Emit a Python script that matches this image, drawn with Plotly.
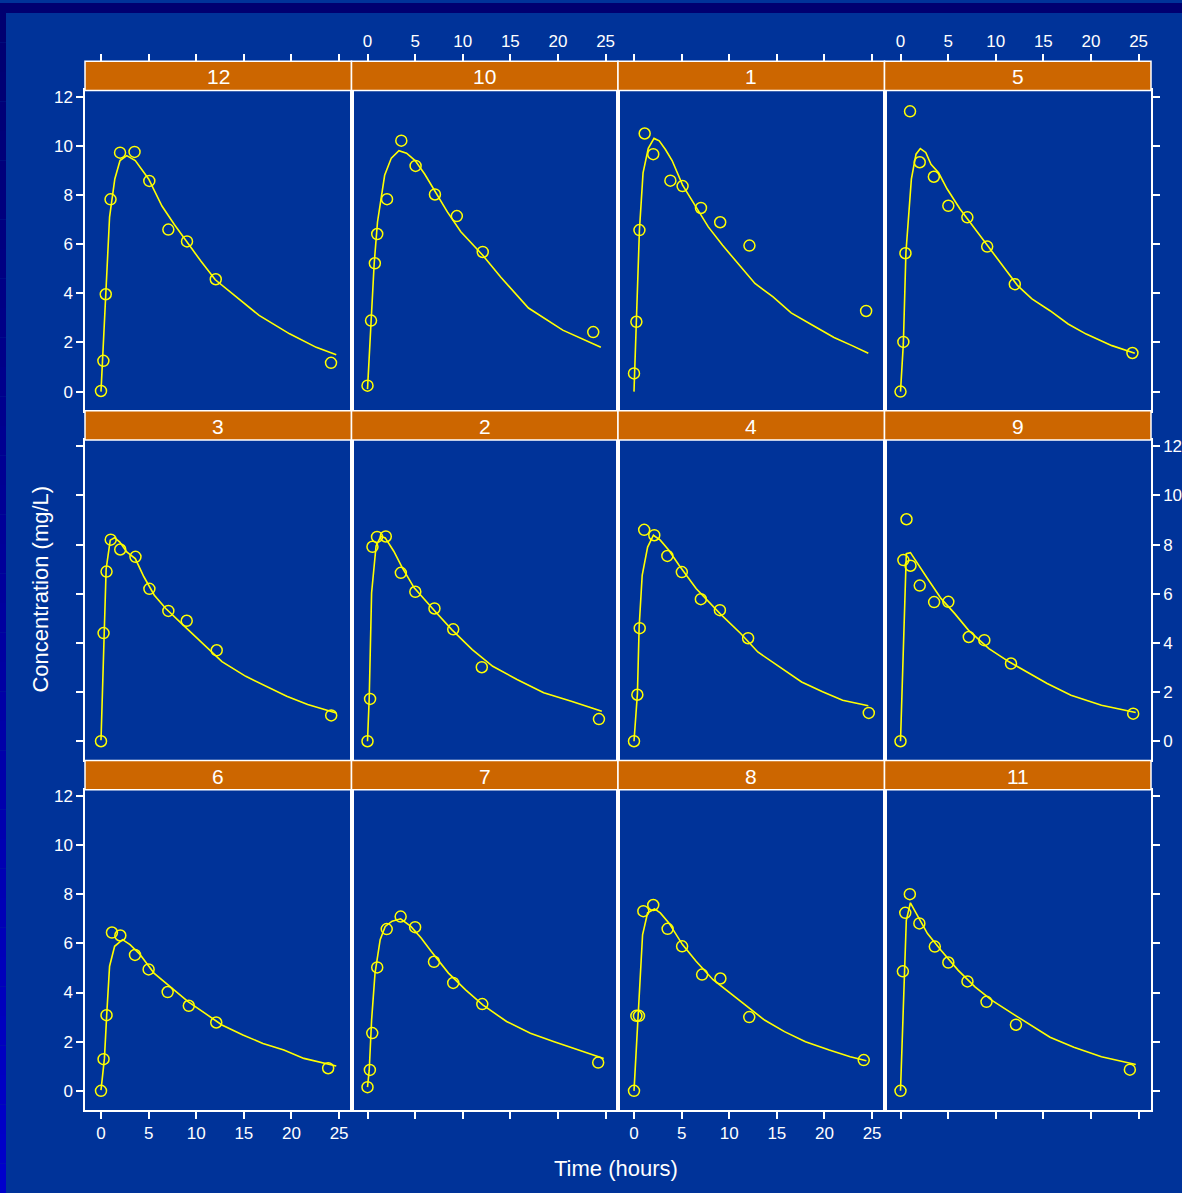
import plotly.graph_objects as go

# ---------------- data ----------------
panel_rows = [[12, 10, 1, 5], [3, 2, 4, 9], [6, 7, 8, 11]]
x_ticks = [0, 5, 10, 15, 20, 25]
y_ticks = [0, 2, 4, 6, 8, 10, 12]

obs_time_1 = [0, 0.25, 0.57, 1.12, 2.02, 3.82, 5.10, 7.03, 9.05, 12.12, 24.37]
obs_conc_1 = [0.74, 2.84, 6.57, 10.50, 9.66, 8.58, 8.36, 7.47, 6.89, 5.94, 3.28]
obs_time_2 = [0, 0.27, 0.52, 1.00, 1.92, 3.50, 5.02, 7.03, 9.00, 12.00, 24.30]
obs_conc_2 = [0, 1.72, 7.91, 8.31, 8.33, 6.85, 6.08, 5.40, 4.55, 3.01, 0.90]
obs_time_3 = [0, 0.27, 0.58, 1.02, 2.02, 3.62, 5.08, 7.07, 9.00, 12.15, 24.17]
obs_conc_3 = [0, 4.40, 6.90, 8.20, 7.80, 7.50, 6.20, 5.30, 4.90, 3.70, 1.05]
obs_time_4 = [0, 0.35, 0.60, 1.07, 2.13, 3.50, 5.02, 7.02, 9.02, 11.98, 24.65]
obs_conc_4 = [0, 1.89, 4.60, 8.60, 8.38, 7.54, 6.88, 5.78, 5.33, 4.19, 1.15]
obs_time_5 = [0, 0.30, 0.52, 1.00, 2.02, 3.50, 5.02, 7.02, 9.10, 12.00, 24.35]
obs_conc_5 = [0, 2.02, 5.63, 11.40, 9.33, 8.74, 7.56, 7.09, 5.90, 4.37, 1.57]
obs_time_6 = [0, 0.27, 0.58, 1.15, 2.03, 3.57, 5.00, 7.00, 9.22, 12.10, 23.85]
obs_conc_6 = [0, 1.29, 3.08, 6.44, 6.32, 5.53, 4.94, 4.02, 3.46, 2.78, 0.92]
obs_time_7 = [0, 0.25, 0.50, 1.02, 2.02, 3.48, 5.00, 6.98, 9.00, 12.05, 24.22]
obs_conc_7 = [0.15, 0.85, 2.35, 5.02, 6.58, 7.09, 6.66, 5.25, 4.39, 3.53, 1.15]
obs_time_8 = [0, 0.25, 0.52, 0.98, 2.02, 3.53, 5.05, 7.15, 9.07, 12.10, 24.12]
obs_conc_8 = [0, 3.05, 3.05, 7.31, 7.56, 6.59, 5.88, 4.73, 4.57, 3.00, 1.25]
obs_time_9 = [0, 0.30, 0.63, 1.05, 2.02, 3.53, 5.02, 7.17, 8.80, 11.60, 24.43]
obs_conc_9 = [0, 7.37, 9.03, 7.14, 6.33, 5.66, 5.67, 4.24, 4.11, 3.16, 1.12]
obs_time_10 = [0, 0.37, 0.77, 1.02, 2.05, 3.55, 5.05, 7.08, 9.38, 12.10, 23.70]
obs_conc_10 = [0.24, 2.89, 5.22, 6.41, 7.83, 10.21, 9.18, 8.02, 7.14, 5.68, 2.42]
obs_time_11 = [0, 0.25, 0.50, 0.98, 1.98, 3.60, 5.02, 7.03, 9.03, 12.12, 24.08]
obs_conc_11 = [0, 4.86, 7.24, 8.00, 6.81, 5.87, 5.22, 4.45, 3.62, 2.69, 0.86]
obs_time_12 = [0, 0.25, 0.50, 1.00, 2.00, 3.52, 5.07, 7.07, 9.03, 12.05, 24.15]
obs_conc_12 = [0.025, 1.25, 3.96, 7.82, 9.72, 9.75, 8.57, 6.59, 6.11, 4.57, 1.17]

# fitted curves
fit_time_1 = [0, 0.25, 0.57, 0.95, 1.5, 2.1, 2.65, 3.3, 4.0, 5.1, 6.45, 7.8, 9.3, 11.2, 12.7, 14.6, 16.5, 18.75, 21.0, 22.9, 24.6]
fit_conc_1 = [0, 2.84, 6.57, 8.9, 9.9, 10.3, 10.2, 9.85, 9.4, 8.4, 7.55, 6.7, 5.95, 5.1, 4.4, 3.85, 3.2, 2.7, 2.2, 1.87, 1.56]
fit_time_2 = [0, 0.18, 0.43, 0.9, 1.4, 1.86, 2.76, 3.66, 4.9, 6.0, 7.06, 8.85, 11.0, 13.15, 15.7, 18.5, 21.4, 24.6]
fit_conc_2 = [0, 1.76, 6.04, 7.94, 8.34, 8.27, 7.73, 7.05, 6.24, 5.75, 5.3, 4.54, 3.73, 3.05, 2.51, 1.97, 1.63, 1.22]
fit_time_3 = [0, 0.54, 0.97, 1.43, 1.97, 2.7, 3.6, 4.5, 5.6, 6.8, 8.8, 10.6, 12.7, 15.2, 17.4, 19.5, 21.7, 24.7]
fit_conc_3 = [0.04, 7.0, 8.18, 8.28, 8.1, 7.7, 7.43, 6.69, 5.94, 5.4, 4.66, 3.99, 3.24, 2.64, 2.24, 1.83, 1.49, 1.15]
fit_time_4 = [0, 0.36, 0.54, 0.86, 1.43, 2.04, 2.76, 3.66, 4.73, 6.52, 9.03, 11.2, 13.0, 15.5, 17.6, 19.8, 21.9, 24.6]
fit_conc_4 = [0, 1.94, 4.65, 6.75, 7.9, 8.38, 8.18, 7.77, 7.16, 6.21, 5.19, 4.38, 3.63, 2.96, 2.41, 2.01, 1.67, 1.44]
fit_time_5 = [0, 0.3, 0.57, 1.14, 1.63, 2.08, 2.65, 3.2, 4.0, 4.9, 6.25, 8.1, 10.4, 12.3, 13.8, 15.7, 17.6, 19.5, 22.2, 24.6]
fit_conc_5 = [0, 1.96, 5.66, 8.64, 9.66, 9.89, 9.73, 9.25, 8.9, 8.24, 7.43, 6.48, 5.26, 4.31, 3.77, 3.29, 2.75, 2.34, 1.87, 1.56]
fit_time_6 = [0, 0.36, 0.61, 0.9, 1.43, 2.26, 3.05, 4.12, 5.56, 7.0, 9.14, 10.9, 12.7, 14.9, 17.0, 19.2, 21.3, 24.7]
fit_conc_6 = [0.03, 1.32, 3.16, 5.07, 5.88, 6.15, 5.95, 5.54, 4.79, 4.31, 3.63, 3.16, 2.68, 2.27, 1.93, 1.66, 1.32, 1.01]
fit_time_7 = [0, 0.18, 0.43, 0.79, 1.33, 1.86, 2.58, 3.48, 4.55, 5.63, 6.7, 8.5, 10.3, 12.1, 14.6, 17.1, 19.6, 22.1, 24.8]
fit_conc_7 = [0.15, 0.84, 2.88, 4.79, 6.15, 6.69, 6.9, 7.0, 6.69, 6.22, 5.67, 4.79, 4.11, 3.5, 2.82, 2.34, 2.0, 1.66, 1.32]
fit_time_8 = [0, 0.43, 0.9, 1.43, 2.15, 2.76, 3.66, 5.09, 6.52, 8.3, 10.1, 11.9, 13.7, 15.8, 18.0, 20.5, 22.7, 24.4]
fit_conc_8 = [0, 3.02, 6.35, 7.24, 7.4, 7.24, 6.83, 5.95, 5.27, 4.52, 3.97, 3.43, 2.88, 2.41, 2.0, 1.66, 1.39, 1.22]
fit_time_9 = [0, 0.61, 1.04, 1.76, 2.83, 4.27, 5.7, 7.13, 9.28, 11.4, 13.2, 15.4, 17.9, 21.1, 24.7]
fit_conc_9 = [0, 7.63, 7.67, 7.23, 6.62, 5.8, 5.19, 4.52, 3.77, 3.23, 2.82, 2.35, 1.87, 1.46, 1.17]
fit_time_10 = [0, 0.36, 0.7, 1.05, 1.8, 2.5, 3.3, 4.1, 5.0, 6.0, 7.0, 8.4, 9.8, 12.1, 14.0, 16.9, 20.5, 24.5]
fit_conc_10 = [0.1, 2.9, 5.2, 6.9, 8.8, 9.5, 9.8, 9.7, 9.4, 8.85, 8.2, 7.3, 6.5, 5.55, 4.65, 3.4, 2.5, 1.8]
fit_time_11 = [0, 0.39, 0.61, 1.04, 1.76, 2.83, 4.27, 6.06, 7.85, 9.64, 11.8, 13.6, 15.7, 18.2, 21.1, 24.7]
fit_conc_11 = [0, 4.9, 6.94, 7.65, 7.15, 6.4, 5.71, 4.9, 4.22, 3.67, 3.13, 2.69, 2.18, 1.77, 1.39, 1.07]
fit_time_12 = [0, 0.5, 0.9, 1.45, 2.0, 2.7, 3.6, 5.0, 6.4, 7.7, 9.1, 10.5, 12.0, 14.1, 16.6, 19.8, 22.6, 24.7]
fit_conc_12 = [0, 3.9, 7.1, 8.65, 9.4, 9.6, 9.4, 8.65, 7.55, 6.8, 6.05, 5.3, 4.55, 3.9, 3.1, 2.35, 1.8, 1.5]

g = globals()
subjects = {s: (g[f"obs_time_{s}"], g[f"obs_conc_{s}"], g[f"fit_time_{s}"], g[f"fit_conc_{s}"])
            for s in range(1, 13)}

# ---------------- layout constants (pixels) ----------------
W, H = 1182, 1193
col_edges = [85, 351.5, 618, 884.5, 1151]
row_top = [58.3, 408.8, 759.3]   # strip tops
strip_h = 29.4
row_pitch = 350.5
XR = [-1.68, 26.3]
YR = [-0.78, 12.25]

BG = "#003399"
YEL = "#FFFF00"
FONT = "Liberation Sans, Arial, Helvetica, sans-serif"


def px(x):
    return x / W


def py(y):
    return 1 - y / H


fig = go.Figure()
layout = dict(
    width=W, height=H, autosize=False,
    margin=dict(l=0, r=0, t=0, b=0),
    paper_bgcolor=BG, plot_bgcolor=BG,
    showlegend=False,
    font=dict(family=FONT, color="white"),
)
shapes = []
annotations = []

axis_common = dict(showgrid=False, zeroline=False, showline=True, mirror=True,
                   linecolor="white", linewidth=1.5, ticklen=7, tickwidth=1.5,
                   tickcolor="white", tickfont=dict(family=FONT, size=17, color="white"),
                   fixedrange=True)

for r, row in enumerate(panel_rows):
    s_top = row_top[r]
    s_bot = s_top + strip_h
    p_bot = s_top + row_pitch
    for c, subj in enumerate(row):
        k = r * 4 + c + 1
        xs = "" if k == 1 else str(k)
        x0, x1 = col_edges[c], col_edges[c + 1]
        layout[f"xaxis{xs}"] = dict(
            axis_common, domain=[px(x0), px(x1)], range=XR, anchor=f"y{xs}",
            tickvals=x_ticks, ticks="outside" if r == 2 else "",
            showticklabels=(r == 2 and c in (0, 2)), side="bottom")
        layout[f"yaxis{xs}"] = dict(
            axis_common, domain=[py(p_bot), py(s_bot)], range=YR, anchor=f"x{xs}",
            tickvals=y_ticks, ticks="outside" if c in (0, 3) else "",
            showticklabels=((c == 0 and r in (0, 2)) or (c == 3 and r == 1)),
            side="right" if c == 3 else "left")
        ot, oc, ft, fc = subjects[subj]
        fig.add_trace(go.Scatter(x=ft, y=fc, mode="lines", xaxis=f"x{xs}", yaxis=f"y{xs}",
                                 line=dict(color=YEL, width=1.6), hoverinfo="skip"))
        fig.add_trace(go.Scatter(x=ot, y=oc, mode="markers", xaxis=f"x{xs}", yaxis=f"y{xs}",
                                 marker=dict(symbol="circle-open", size=11, color=YEL,
                                             line=dict(color=YEL, width=1.5))))
        # strip
        shapes.append(dict(type="rect", xref="paper", yref="paper",
                           x0=px(x0), x1=px(x1), y0=py(s_bot), y1=py(s_top),
                           fillcolor="#CC6600", line=dict(color="white", width=1.5)))
        annotations.append(dict(text=str(subj), xref="paper", yref="paper",
                                x=px((x0 + x1) / 2), y=py((s_top + s_bot) / 2 + 1),
                                showarrow=False, font=dict(family=FONT, size=21, color="white"),
                                xanchor="center", yanchor="middle"))
        # top axis (ticks above the strips of the top row)
        if r == 0:
            kt = 13 + c
            layout[f"xaxis{kt}"] = dict(
                axis_common, showline=False, mirror=False, domain=[px(x0), px(x1)], range=XR,
                overlaying=f"x{xs}", anchor="free", position=py(s_top), side="top",
                tickvals=x_ticks, ticks="outside", showticklabels=(c in (1, 3)))
            fig.add_trace(go.Scatter(x=ot, y=oc, mode="markers", xaxis=f"x{kt}", yaxis=f"y{xs}",
                                     marker=dict(size=1, opacity=0), hoverinfo="skip"))

# background decorations: dark top band and left gradient band
shapes.insert(0, dict(type="rect", xref="paper", yref="paper", x0=0, x1=1,
                      y0=py(10), y1=1, fillcolor="#000070", line=dict(width=0), layer="below"))
n_steps = 40
for i in range(n_steps):
    t = i / (n_steps - 1)
    col = "rgb(0,0,%d)" % int(112 + t * (204 - 112))
    ya = 10 + (H - 10) * i / n_steps
    yb = 10 + (H - 10) * (i + 1) / n_steps
    shapes.insert(0, dict(type="rect", xref="paper", yref="paper", x0=0, x1=px(6),
                          y0=py(yb), y1=py(ya), fillcolor=col, line=dict(width=0), layer="below"))

annotations.append(dict(text="Time (hours)", xref="paper", yref="paper",
                        x=px(616), y=py(1168), showarrow=False,
                        font=dict(family=FONT, size=22, color="white"),
                        xanchor="center", yanchor="middle"))
annotations.append(dict(text="Concentration (mg/L)", xref="paper", yref="paper",
                        x=px(41), y=py(588), showarrow=False, textangle=-90,
                        font=dict(family=FONT, size=22, color="white"),
                        xanchor="center", yanchor="middle"))

layout["shapes"] = shapes
layout["annotations"] = annotations
fig.update_layout(**layout)
fig.write_html("out.html", config={"displayModeBar": False},
               post_script="document.body.style.margin='0px';document.body.style.overflow='hidden';")
